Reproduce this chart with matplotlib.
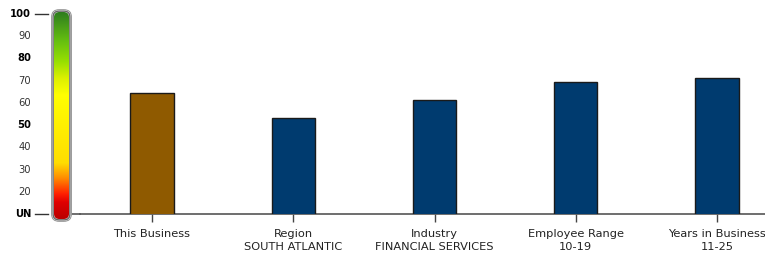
import numpy as np
import matplotlib
matplotlib.use("Agg")
import matplotlib.pyplot as plt
from matplotlib.colors import LinearSegmentedColormap
from matplotlib.patches import FancyBboxPatch

# data
categories = ["This Business", "Region\nSOUTH ATLANTIC", "Industry\nFINANCIAL SERVICES",
              "Employee Range\n10-19", "Years in Business\n11-25"]
scores = [64.5, 53.2, 61.3, 69.4, 71.2]
bar_colors = ["#8f5a00", "#003b6f", "#003b6f", "#003b6f", "#003b6f"]

scale_values = [10, 20, 30, 40, 50, 60, 70, 80, 90, 100]
scale_labels = ["UN", "20", "30", "40", "50", "60", "70", "80", "90", "100"]
bold_labels = {"UN", "50", "80", "100"}

# gradient stops for the score scale (position 0 = bottom, 1 = top)
grad_pos = [0.0, 0.08, 0.12, 0.2, 0.27, 0.6, 0.68, 0.76, 0.86, 1.0]
grad_col = ["#bb0000", "#e00000", "#ff2000", "#ff9000", "#ffdd00", "#ffff00",
            "#ddf000", "#99e000", "#66c010", "#2e7d1e"]

W, H = 765, 259
fig = plt.figure(figsize=(W / 100, H / 100), dpi=100)
fig.patch.set_facecolor("white")

y0_px, y1_px = 214, 14  # pixel rows for 10 (UN) and 100
ax_bottom = (H - y0_px) / H
ax_height = (y0_px - y1_px) / H

# main bar axes
ax = fig.add_axes([80 / W, ax_bottom, (W - 80) / W, ax_height])
x = np.arange(len(categories))
ax.bar(x, scores, width=0.305, color=bar_colors,
       edgecolor="#1a1a1a", linewidth=1.0, zorder=3)
ax.set_xlim(-0.51, 4.34)
ax.set_ylim(10, 100)
ax.set_xticks(x)
ax.set_xticklabels(categories, fontsize=8.2, color="#222222", linespacing=1.3)
ax.tick_params(axis="x", length=6, width=1, color="#444444", pad=5)
ax.set_yticks([])
for side in ["top", "right", "left"]:
    ax.spines[side].set_visible(False)
ax.spines["bottom"].set_color("#555555")
ax.spines["bottom"].set_linewidth(1.2)

# label axes on the left, same vertical scale
axl = fig.add_axes([0, ax_bottom, 80 / W, ax_height])
axl.set_xlim(0, 80)
axl.set_ylim(10, 100)
axl.axis("off")
for v, lab in zip(scale_values, scale_labels):
    bold = lab in bold_labels
    axl.text(31, v, lab, ha="right", va="center", fontsize=7.2,
             fontweight="bold" if bold else "normal",
             color="#000000" if bold else "#333333", clip_on=False)
for v in [10, 100]:
    axl.plot([35, 48], [v, v], color="#333333", lw=1, clip_on=False)
axl.plot([72, 80], [10, 10], color="#555555", lw=1.2, clip_on=False)

# gradient scale bar
cmap = LinearSegmentedColormap.from_list("score", list(zip(grad_pos, grad_col)))
grad = np.linspace(0, 1, 256).reshape(-1, 1)
axc = fig.add_axes([54 / W, (H - 219) / H, 15 / W, 207 / H])
axc.imshow(grad, aspect="auto", cmap=cmap, origin="lower", extent=[0, 1, 0, 1])
axc.set_xlim(0, 1)
axc.set_ylim(0, 1)
axc.axis("off")
clip = FancyBboxPatch((0.0, 0.0), 1, 1, boxstyle="round,pad=0,rounding_size=0.35",
                      mutation_aspect=0.07, transform=axc.transAxes,
                      facecolor="none", edgecolor="none")
axc.add_patch(clip)
axc.images[0].set_clip_path(clip)
outline = FancyBboxPatch((0.0, 0.0), 1, 1, boxstyle="round,pad=0.06,rounding_size=0.4",
                         mutation_aspect=0.07, transform=axc.transAxes,
                         facecolor="none", edgecolor="#666666", linewidth=1.0,
                         clip_on=False)
axc.add_patch(outline)
outline2 = FancyBboxPatch((0.0, 0.0), 1, 1, boxstyle="round,pad=0.16,rounding_size=0.5",
                          mutation_aspect=0.07, transform=axc.transAxes,
                          facecolor="none", edgecolor="#999999", linewidth=0.8,
                          clip_on=False)
axc.add_patch(outline2)

fig.savefig("out.png", dpi=100, facecolor="white")
